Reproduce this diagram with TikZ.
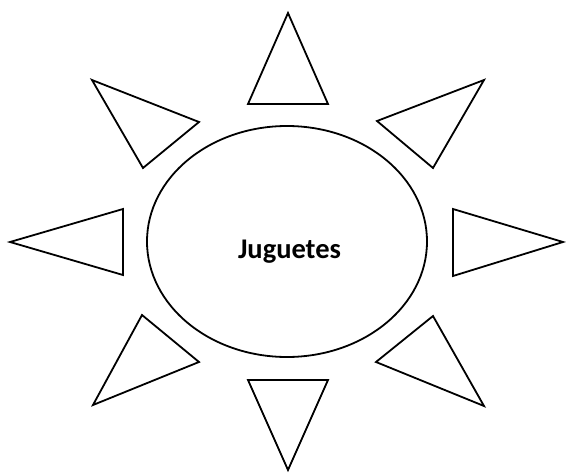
\documentclass[tikz,border=0pt]{standalone}
\usepackage{fontspec}
\setmainfont{Carlito}
\usetikzlibrary{shapes.geometric}
\tikzset{
  ray/.style={draw=black,line width=1.8pt,line join=miter},
  oval/.style={ellipse,draw=black,line width=1.8pt,minimum width=280pt,minimum height=231pt,inner sep=0pt},
  lbl/.style={font=\fontsize{28.5}{32}\selectfont\bfseries,inner sep=0pt,anchor=base}
}
\begin{document}
\begin{tikzpicture}[x=1pt,y=-1pt]
\useasboundingbox (0,0) rectangle (566,474);
\node[oval] (sun) at (287,241.5) {};
\node[lbl] (name) at (289.5,258) {Juguetes};
% rays, clockwise from the top
\draw[ray] (288,13)--(248,104)--(328,104)--cycle;
\draw[ray] (484,80)--(377,121)--(433,168)--cycle;
\draw[ray] (563,242)--(453,209)--(453,276)--cycle;
\draw[ray] (484,406)--(433,316)--(376,362)--cycle;
\draw[ray] (288,470)--(248,380)--(328,380)--cycle;
\draw[ray] (93,405)--(142,315)--(199,362)--cycle;
\draw[ray] (10,242)--(123,209)--(123,275)--cycle;
\draw[ray] (92,80)--(199,122)--(143,168)--cycle;
\end{tikzpicture}
\end{document}
